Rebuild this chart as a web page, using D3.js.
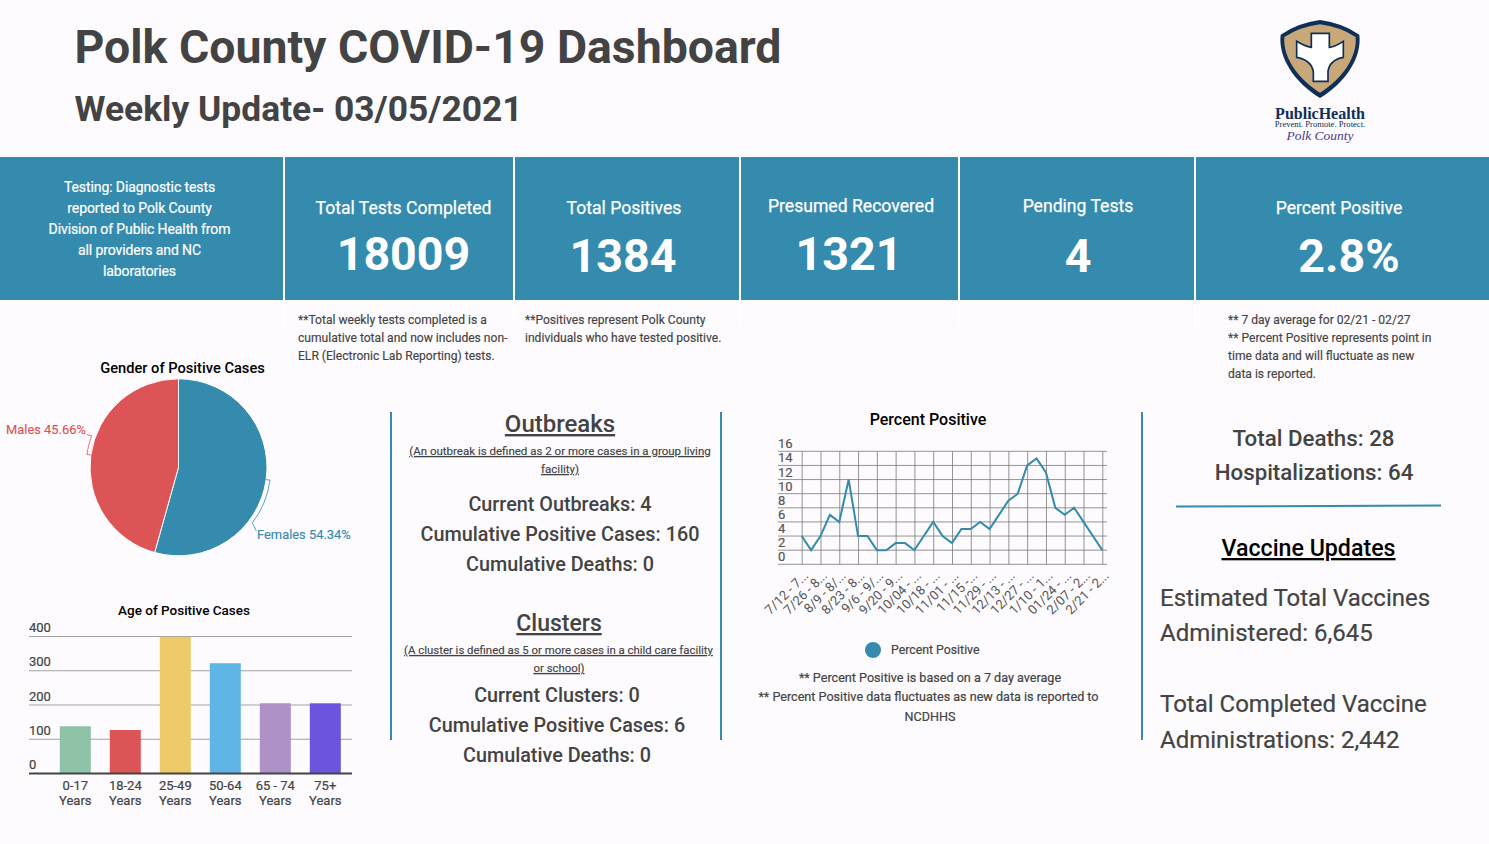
<!DOCTYPE html>
<html>
<head>
<meta charset="utf-8">
<title>Polk County COVID-19 Dashboard</title>
<script src="https://cdn.jsdelivr.net/npm/d3@7"></script>
<style>
  html, body { margin: 0; padding: 0; background: #fdfbfd; overflow: hidden; }
  svg { display: block; }
  text { font-family: Roboto, sans-serif; }
</style>
</head>
<body>
<div id="chart"></div>
<script>
// chart values
var genderLabels = ['Females', 'Males'];
var genderValues = [54.34, 45.66];

var ageLabels = [['0-17', 'Years'], ['18-24', 'Years'], ['25-49', 'Years'], ['50-64', 'Years'], ['65 - 74', 'Years'], ['75+', 'Years']];
var ageValues = [138, 127, 399, 322, 205, 205];
var ageColors = ['#8fc3a8', '#dd5457', '#efca69', '#5fb6e6', '#ac90c6', '#6c54dc'];
var ageTicks = [0, 100, 200, 300, 400];

var percentValues = [4, 2, 4, 7, 6, 12, 4, 4, 2, 2, 3, 3, 2, 4, 6, 4, 3, 5, 5, 6, 5, 7, 9, 10, 14, 15, 13, 8, 7, 8, 6, 4, 2];
var percentTickLabels = ['7/12 - 7...', '7/26 - 8...', '8/9 - 8/...', '8/23 - 8...', '9/6 - 9/...', '9/20 - 9...', '10/04 - ...', '10/18 - ...', '11/01 - ...', '11/15 -...', '11/29 - ...', '12/13 - ...', '12/27 - ...', '1/10 - 1...', '01/24 - ...', '2/07 - 2...', '2/21 - 2...'];
var percentTicks = [0, 2, 4, 6, 8, 10, 12, 14, 16];

var cardTitles = ['Total Tests Completed', 'Total Positives', 'Presumed Recovered', 'Pending Tests', 'Percent Positive'];
var cardValues = ['18009', '1384', '1321', '4', '2.8%'];

var blue = '#348bae', red = '#dd5457', ink = '#434343';

var svg = d3.select('#chart').append('svg')
    .attr('width', 1489)
    .attr('height', 844);

function label(x, y, str, size, opts) {
    opts = opts || {};
    var fill = opts.fill || ink;
    return svg.append('text')
        .attr('x', x)
        .attr('y', y)
        .attr('text-anchor', opts.anchor || 'start')
        .attr('font-size', size)
        .attr('font-weight', opts.weight || 400)
        .attr('fill', fill)
        .attr('stroke', opts.thick ? fill : null)
        .attr('stroke-width', opts.thick || null)
        .attr('letter-spacing', opts.spacing || null)
        .style('text-decoration', opts.underline ? 'underline' : null)
        .text(str);
}

// header
label(74.5, 63, 'Polk County COVID-19 Dashboard', 46.4, { weight: 700 });
label(74.5, 121, 'Weekly Update- 03/05/2021', 35.4, { weight: 700 });

// logo
var logo = svg.append('g').attr('transform', 'translate(1250,10) scale(0.3333)');
logo.append('path')
    .attr('d', 'M210,30 Q275,38 328,74 C336,140 290,215 210,264 C130,215 84,140 92,74 Q145,38 210,30Z')
    .attr('fill', '#0e2f57');
logo.append('path')
    .attr('d', 'M210,43 Q268,50 317,81 C322,140 278,206 210,248 C142,206 98,140 103,81 Q152,50 210,43Z')
    .attr('fill', '#c8a878');
logo.append('path')
    .attr('d', 'M184,70 L238,70 L238,112 Q256,110 280,94 L280,142 Q238,150 234,185 L234,214 L190,214 L190,185 Q184,150 140,142 L140,94 Q166,110 184,112Z')
    .attr('fill', '#fff')
    .attr('stroke', '#0e2f57')
    .attr('stroke-width', 5);
svg.append('text').attr('x', 1320).attr('y', 118.5).attr('text-anchor', 'middle')
    .attr('font-size', 16).attr('font-weight', 700).attr('fill', '#0e2f57')
    .style('font-family', '"Liberation Serif", serif').text('PublicHealth');
svg.append('text').attr('x', 1320).attr('y', 127).attr('text-anchor', 'middle')
    .attr('font-size', 8.6).attr('fill', '#0e2f57')
    .style('font-family', '"Liberation Serif", serif').text('Prevent. Promote. Protect.');
svg.append('text').attr('x', 1320).attr('y', 140).attr('text-anchor', 'middle')
    .attr('font-size', 13.5).attr('font-style', 'italic').attr('fill', '#4b3a8c')
    .style('font-family', '"Liberation Serif", serif').text('Polk County');

// banner
var cardEdges = [[0, 283], [285, 513], [515, 739], [741, 958], [960, 1194], [1196, 1489]];
cardEdges.forEach(function (d) {
    svg.append('rect').attr('x', d[0]).attr('y', 157)
        .attr('width', d[1] - d[0]).attr('height', 143).attr('fill', blue);
});
[[283, 157, 328], [513, 152, 322], [739, 152, 324], [958, 152, 324], [1194, 152, 328]].forEach(function (d) {
    svg.append('rect').attr('x', d[0]).attr('y', d[1])
        .attr('width', 2).attr('height', d[2] - d[1]).attr('fill', '#fff');
});

['Testing: Diagnostic tests', 'reported to Polk County', 'Division of Public Health from', 'all providers and NC', 'laboratories'].forEach(function (s, i) {
    label(139.5, 192 + i * 21, s, 14, { anchor: 'middle', fill: '#fff', spacing: -0.1, thick: 0.2 });
});

var cardX = [403.5, 624, 851, 1078, 1339];
var cardTitleY = [214, 214, 212, 212, 214];
var cardNumX = [403.5, 623, 849, 1078, 1349];
var cardNumY = [270, 272, 270, 272, 272];
cardTitles.forEach(function (t, i) {
    label(cardX[i], cardTitleY[i], t, 17.6, { anchor: 'middle', fill: '#fff', thick: 0.25 });
    label(cardNumX[i], cardNumY[i], cardValues[i], 46.6, { anchor: 'middle', fill: '#fff', weight: 700 });
});

// notes under banner
function notes(x, y, lines, step, size, opts) {
    lines.forEach(function (s, i) { label(x, y + i * step, s, size, opts); });
}
notes(298, 324, ['**Total weekly tests completed is a', 'cumulative total and now includes non-', 'ELR (Electronic Lab Reporting) tests.'], 18, 12.1, { thick: 0.15 });
notes(525, 324, ['**Positives represent Polk County', 'individuals who have tested positive.'], 18, 12.1, { thick: 0.15 });
notes(1228, 324, ['** 7 day average for 02/21 - 02/27', '** Percent Positive represents point in', 'time data and will fluctuate as new', 'data is reported.'], 18, 12.1, { thick: 0.15 });

// gender pie
label(182.5, 373, 'Gender of Positive Cases', 14.67, { anchor: 'middle', fill: '#000', weight: 500 });
var pieG = svg.append('g').attr('transform', 'translate(178.5,467.3)');
var pieR = 88.5;
var pie = d3.pie().sort(null)(genderValues);
var arc = d3.arc().innerRadius(0).outerRadius(pieR);
pieG.selectAll('path.slice').data(pie).enter().append('path')
    .attr('class', 'slice')
    .attr('d', arc)
    .attr('fill', function (d, i) { return i === 0 ? blue : red; })
    .attr('stroke', '#fff')
    .attr('stroke-width', 1);

// leader lines follow the rim of the pie
function rim(r, deg) {
    var a = deg * Math.PI / 180;
    return [r * Math.sin(a), -r * Math.cos(a)];
}
function leader(a0, a1, tail, color) {
    var p = d3.path();
    var s = rim(pieR, a0), t = rim(pieR + 4, a0), e = rim(pieR + 4, a1);
    p.moveTo(s[0], s[1]);
    p.lineTo(t[0], t[1]);
    p.arc(0, 0, pieR + 4, (a0 - 90) * Math.PI / 180, (a1 - 90) * Math.PI / 180, a1 < a0);
    p.lineTo(e[0] + tail[0], e[1] + tail[1]);
    pieG.append('path').attr('d', p.toString()).attr('fill', 'none')
        .attr('stroke', color).attr('stroke-width', 0.8);
}
leader(98, 127, [4, 8], blue);
leader(278, 290, [-5, -1], red);
label(257, 539, genderLabels[0] + ' ' + genderValues[0] + '%', 12.9, { fill: blue, thick: 0.15 });
label(6, 434, genderLabels[1] + ' ' + genderValues[1] + '%', 12.9, { fill: red, thick: 0.15 });

// age bars
label(184, 614.5, 'Age of Positive Cases', 13.5, { anchor: 'middle', fill: '#000', weight: 500 });
var ageX = d3.scaleBand().domain(d3.range(ageValues.length)).range([50.3, 350.3]).paddingInner(0.38).paddingOuter(0.19);
var ageY = d3.scaleLinear().domain([0, 400]).range([773.5, 636.5]);
svg.append('g').selectAll('line').data(ageTicks.slice(1)).enter().append('line')
    .attr('x1', 29).attr('x2', 352)
    .attr('y1', function (d) { return ageY(d); }).attr('y2', function (d) { return ageY(d); })
    .attr('stroke', '#a3a3a3').attr('stroke-width', 1);
svg.append('g').selectAll('rect').data(ageValues).enter().append('rect')
    .attr('x', function (d, i) { return ageX(i); })
    .attr('y', function (d) { return ageY(d); })
    .attr('width', ageX.bandwidth())
    .attr('height', function (d) { return ageY(0) - ageY(d); })
    .attr('fill', function (d, i) { return ageColors[i]; });
svg.append('line').attr('x1', 29).attr('x2', 352).attr('y1', ageY(0)).attr('y2', ageY(0))
    .attr('stroke', '#444').attr('stroke-width', 2);
ageTicks.forEach(function (t) {
    label(29, ageY(t) - 4.5, t, 13, { thick: 0.2 });
});
ageLabels.forEach(function (l, i) {
    var cx = ageX(i) + ageX.bandwidth() / 2;
    label(cx, 790, l[0], 13, { anchor: 'middle', thick: 0.2 });
    label(cx, 805, l[1], 13, { anchor: 'middle', thick: 0.2 });
});

// rules between columns
[391, 721, 1142].forEach(function (x) {
    svg.append('line').attr('x1', x).attr('x2', x).attr('y1', 412).attr('y2', 740)
        .attr('stroke', blue).attr('stroke-width', 2);
});
svg.append('line').attr('x1', 1176).attr('x2', 1441).attr('y1', 506.5).attr('y2', 505.5)
    .attr('stroke', blue).attr('stroke-width', 2);

// outbreaks and clusters
label(560, 432, 'Outbreaks ', 24, { anchor: 'middle', weight: 500, underline: true });
label(560, 455, '(An outbreak is defined as 2 or more cases in a group living ', 11.5, { anchor: 'middle', underline: true, thick: 0.15 });
label(560, 473, 'facility)', 11.5, { anchor: 'middle', underline: true, thick: 0.15 });
label(560, 511, 'Current Outbreaks: 4', 19.8, { anchor: 'middle', weight: 500 });
label(560, 541, 'Cumulative Positive Cases: 160', 19.8, { anchor: 'middle', weight: 500 });
label(560, 571, 'Cumulative Deaths: 0', 19.8, { anchor: 'middle', weight: 500 });

label(559, 631, 'Clusters', 23, { anchor: 'middle', weight: 500, underline: true });
label(558.5, 654, '(A cluster is defined as 5 or more cases in a child care facility ', 11.4, { anchor: 'middle', underline: true, thick: 0.15 });
label(559, 672, 'or school)', 11.4, { anchor: 'middle', underline: true, thick: 0.15 });
label(557, 702, 'Current Clusters: 0', 19.8, { anchor: 'middle', weight: 500 });
label(557, 732, 'Cumulative Positive Cases: 6', 19.8, { anchor: 'middle', weight: 500 });
label(557, 762, 'Cumulative Deaths: 0', 19.8, { anchor: 'middle', weight: 500 });

// percent positive line
label(928, 425, 'Percent Positive', 16, { anchor: 'middle', fill: '#000', weight: 500 });
var lineX = d3.scaleLinear().domain([0, percentValues.length - 1]).range([801.7, 1102.3]);
var lineY = d3.scaleLinear().domain([0, 16]).range([564.3, 451.3]);
var tickIdx = percentTickLabels.map(function (d, i) { return i * 2; });

svg.append('g').selectAll('line').data(percentTicks).enter().append('line')
    .attr('x1', 778).attr('x2', 1107)
    .attr('y1', function (d) { return lineY(d); }).attr('y2', function (d) { return lineY(d); })
    .attr('stroke', '#7a7a7a').attr('stroke-width', 0.8);

var xAxis = svg.append('g')
    .attr('transform', 'translate(0,564.3)')
    .call(d3.axisBottom(lineX)
        .tickValues(tickIdx)
        .tickSize(-113)
        .tickPadding(7)
        .tickFormat(function (d) { return percentTickLabels[d / 2]; }));
xAxis.select('.domain').remove();
xAxis.selectAll('line').attr('stroke', '#7a7a7a').attr('stroke-width', 0.8);
xAxis.selectAll('text')
    .attr('font-size', 13)
    .attr('font-family', 'Roboto')
    .attr('fill', '#555')
    .attr('text-anchor', 'end')
    .attr('x', 2)
    .attr('y', 8)
    .attr('dy', '0.6em')
    .attr('transform', 'rotate(-45 0 8)');

percentTicks.forEach(function (t) {
    label(778, lineY(t) - 3, t, 13, { fill: '#555', thick: 0.2 });
});

svg.append('path').datum(percentValues)
    .attr('fill', 'none')
    .attr('stroke', blue)
    .attr('stroke-width', 2)
    .attr('d', d3.line()
        .x(function (d, i) { return lineX(i); })
        .y(function (d) { return lineY(d); }));

svg.append('circle').attr('cx', 873).attr('cy', 650).attr('r', 8).attr('fill', blue);
label(891, 654, 'Percent Positive', 12.3, { thick: 0.2 });
label(930, 682, '** Percent Positive is based on a 7 day average', 12.6, { anchor: 'middle', thick: 0.2 });
label(928.5, 701, '** Percent Positive data fluctuates as new data is reported to', 12.6, { anchor: 'middle', thick: 0.2 });
label(930, 721, 'NCDHHS', 12.6, { anchor: 'middle', thick: 0.2 });

// right column
label(1313.5, 446, 'Total Deaths: 28', 22.3, { anchor: 'middle', weight: 500 });
label(1314, 480, 'Hospitalizations: 64', 22.3, { anchor: 'middle', weight: 500 });
label(1308.5, 556, 'Vaccine Updates', 23.2, { anchor: 'middle', weight: 500, fill: '#000', underline: true });
label(1160, 606, 'Estimated Total Vaccines', 24, { thick: 0.2 });
label(1160, 641, 'Administered: 6,645', 24, { thick: 0.2 });
label(1160, 712, 'Total Completed Vaccine', 24, { thick: 0.2 });
label(1160, 748, 'Administrations: 2,442', 24, { thick: 0.2 });
</script>
</body>
</html>
